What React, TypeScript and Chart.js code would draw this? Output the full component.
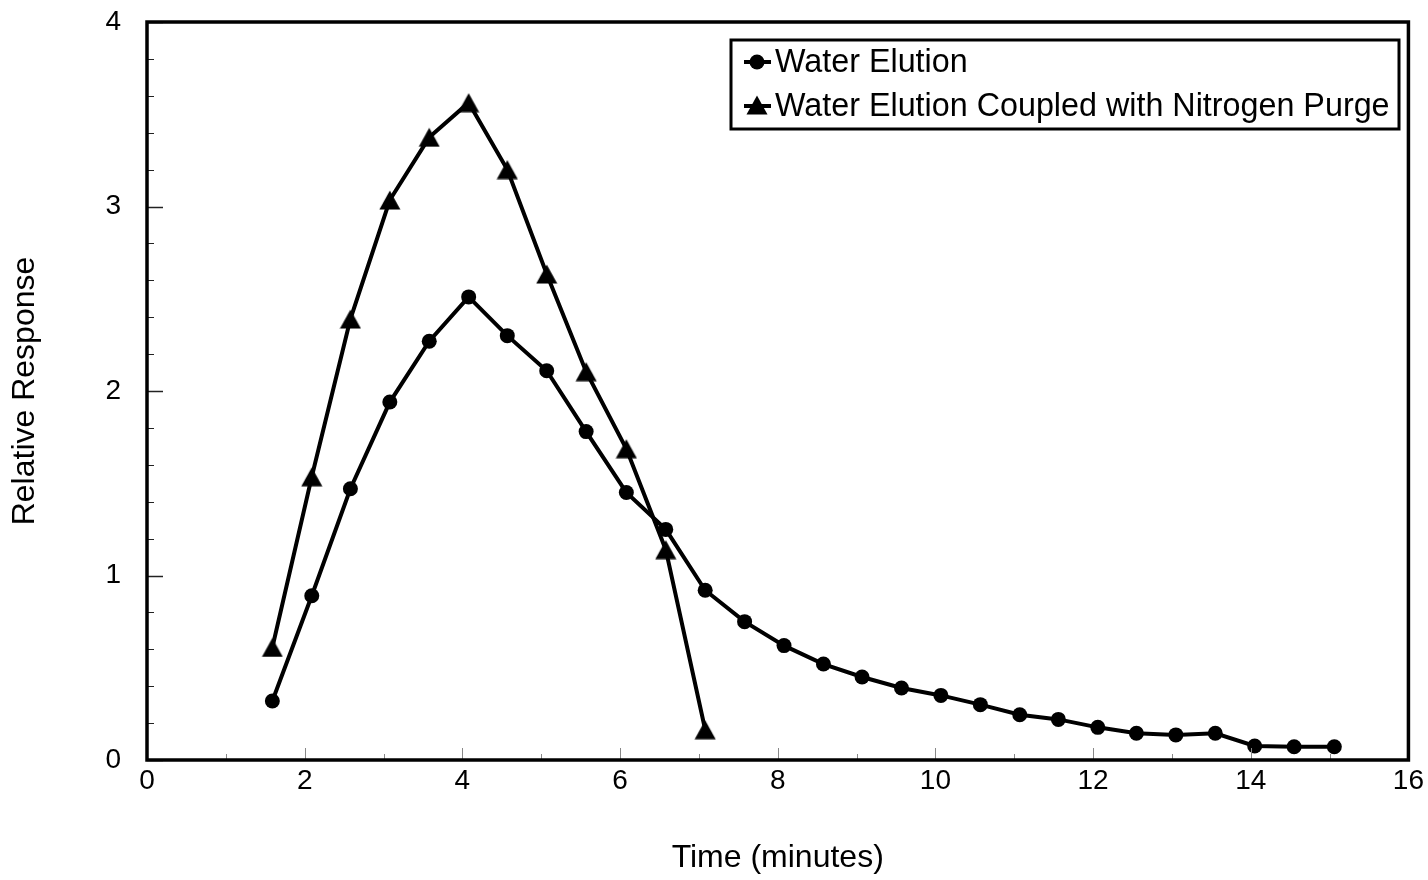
import React, { useEffect, useRef } from "react";
import { Chart, registerables } from "chart.js";

Chart.register(...registerables);

// ---- Data ----
const waterTimes = [
  1.59, 2.09, 2.58, 3.08, 3.58, 4.08, 4.57, 5.07, 5.57, 6.08, 6.58, 7.08, 7.58, 8.08,
  8.58, 9.07, 9.57, 10.07, 10.57, 11.07, 11.56, 12.06, 12.55, 13.05, 13.55, 14.05, 14.55, 15.06,
];
const waterResponse = [
  0.32, 0.89, 1.47, 1.94, 2.27, 2.51, 2.3, 2.11, 1.78, 1.45, 1.25, 0.92, 0.75, 0.62,
  0.52, 0.45, 0.39, 0.35, 0.3, 0.245, 0.22, 0.177, 0.145, 0.136, 0.145, 0.076, 0.072, 0.072,
];
const purgeTimes = [1.59, 2.09, 2.58, 3.08, 3.58, 4.08, 4.57, 5.07, 5.57, 6.08, 6.58, 7.08];
const purgeResponse = [0.61, 1.535, 2.39, 3.035, 3.375, 3.563, 3.2, 2.634, 2.105, 1.687, 1.14, 0.164];

const seriesLabels = ["Water Elution", "Water Elution Coupled with Nitrogen Purge"];
const xTitle = "Time (minutes)";
const yTitle = "Relative Response";
const xRange = [0, 16];
const yRange = [0, 4];
const xStep = 2;
const yStep = 1;

const FONT = "'Liberation Sans', Arial, Helvetica, sans-serif";

function makeTriangle(): HTMLCanvasElement {
  const c = document.createElement("canvas");
  c.width = 22;
  c.height = 20;
  const g = c.getContext("2d")!;
  g.fillStyle = "#000";
  g.beginPath();
  g.moveTo(11, 0.5);
  g.lineTo(21.5, 19.5);
  g.lineTo(0.5, 19.5);
  g.closePath();
  g.fill();
  return c;
}

export default function App() {
  const ref = useRef<HTMLCanvasElement | null>(null);

  useEffect(() => {
    document.body.style.margin = "0";
    const canvas = ref.current!;
    const tri = makeTriangle();

    const framePlugin = {
      id: "framePlugin",
      afterDraw(chart: any) {
        const { ctx, chartArea } = chart;
        const xs = chart.scales.x;
        const ys = chart.scales.y;
        ctx.save();
        // inward ticks on y axis
        ctx.strokeStyle = "#222";
        for (let i = 0; i <= 20; i++) {
          const v = i * 0.2;
          const py = Math.round(ys.getPixelForValue(v)) + 0.5;
          const major = i % 5 === 0;
          ctx.lineWidth = major ? 1.5 : 1;
          ctx.beginPath();
          ctx.moveTo(chartArea.left, py);
          ctx.lineTo(chartArea.left + (major ? 16 : 7), py);
          ctx.stroke();
        }
        // inward ticks on x axis (faint)
        ctx.strokeStyle = "#888";
        ctx.lineWidth = 1;
        for (let i = 0; i <= 16; i++) {
          const px = Math.round(xs.getPixelForValue(i)) + 0.5;
          const major = i % 2 === 0;
          ctx.beginPath();
          ctx.moveTo(px, chartArea.bottom);
          ctx.lineTo(px, chartArea.bottom - (major ? 12 : 6));
          ctx.stroke();
        }
        // frame
        ctx.strokeStyle = "#000";
        ctx.lineWidth = 3.5;
        ctx.strokeRect(chartArea.left, chartArea.top, chartArea.right - chartArea.left, chartArea.bottom - chartArea.top);

        // legend box
        const lx = 731, ly = 40, lw = 668, lh = 89;
        ctx.fillStyle = "#fff";
        ctx.fillRect(lx, ly, lw, lh);
        ctx.lineWidth = 3;
        ctx.strokeStyle = "#000";
        ctx.strokeRect(lx, ly, lw, lh);
        const rows = [62, 106];
        ctx.font = `32.3px ${FONT}`;
        ctx.textBaseline = "middle";
        ctx.textAlign = "left";
        rows.forEach((ry, i) => {
          ctx.lineWidth = 4;
          ctx.beginPath();
          ctx.moveTo(744, ry);
          ctx.lineTo(771, ry);
          ctx.stroke();
          ctx.fillStyle = "#000";
          if (i === 0) {
            ctx.beginPath();
            ctx.arc(757, ry, 7.5, 0, Math.PI * 2);
            ctx.fill();
          } else {
            ctx.drawImage(tri, 757 - tri.width / 2, ry - tri.height / 2 - 1);
          }
          ctx.fillText(seriesLabels[i], 775, ry + 1);
        });
        ctx.restore();
      },
    };

    const chart = new Chart(canvas, {
      type: "line",
      data: {
        datasets: [
          {
            label: seriesLabels[0],
            data: waterTimes.map((t, i) => ({ x: t, y: waterResponse[i] })),
            borderColor: "#000",
            backgroundColor: "#000",
            borderWidth: 4,
            pointStyle: "circle",
            pointRadius: 7.5,
            pointBorderWidth: 0,
            pointBackgroundColor: "#000",
            tension: 0,
          },
          {
            label: seriesLabels[1],
            data: purgeTimes.map((t, i) => ({ x: t, y: purgeResponse[i] })),
            borderColor: "#000",
            backgroundColor: "#000",
            borderWidth: 4,
            pointStyle: tri,
            pointRadius: 10,
            tension: 0,
          },
        ],
      },
      options: {
        animation: false,
        responsive: false,
        devicePixelRatio: 1,
        layout: { autoPadding: false, padding: { left: 0, top: 22, right: 18, bottom: 0 } },
        plugins: {
          legend: { display: false },
          tooltip: { enabled: false },
        },
        scales: {
          x: {
            type: "linear",
            min: xRange[0],
            max: xRange[1],
            ticks: {
              stepSize: xStep,
              color: "#000",
              font: { family: FONT, size: 28 },
              padding: 4,
              maxRotation: 0,
            },
            grid: { drawOnChartArea: false, drawTicks: false },
            border: { display: false },
            title: {
              display: true,
              text: xTitle,
              color: "#000",
              font: { family: FONT, size: 32 },
              padding: { top: 0, bottom: 3 },
            },
            afterFit(scale: any) {
              scale.height = 120;
            },
          },
          y: {
            type: "linear",
            min: yRange[0],
            max: yRange[1],
            ticks: {
              stepSize: yStep,
              color: "#000",
              font: { family: FONT, size: 28 },
              padding: 26,
            },
            grid: { drawOnChartArea: false, drawTicks: false },
            border: { display: false },
            title: {
              display: true,
              text: yTitle,
              color: "#000",
              font: { family: FONT, size: 32 },
              padding: { top: 6, bottom: 0 },
            },
            afterFit(scale: any) {
              scale.width = 147;
              scale.paddingTop = 0;
              scale.paddingBottom = 0;
            },
          },
        },
      },
      plugins: [framePlugin],
    });

    return () => chart.destroy();
  }, []);

  return <canvas ref={ref} width={1428} height={880} style={{ display: "block" }} />;
}
